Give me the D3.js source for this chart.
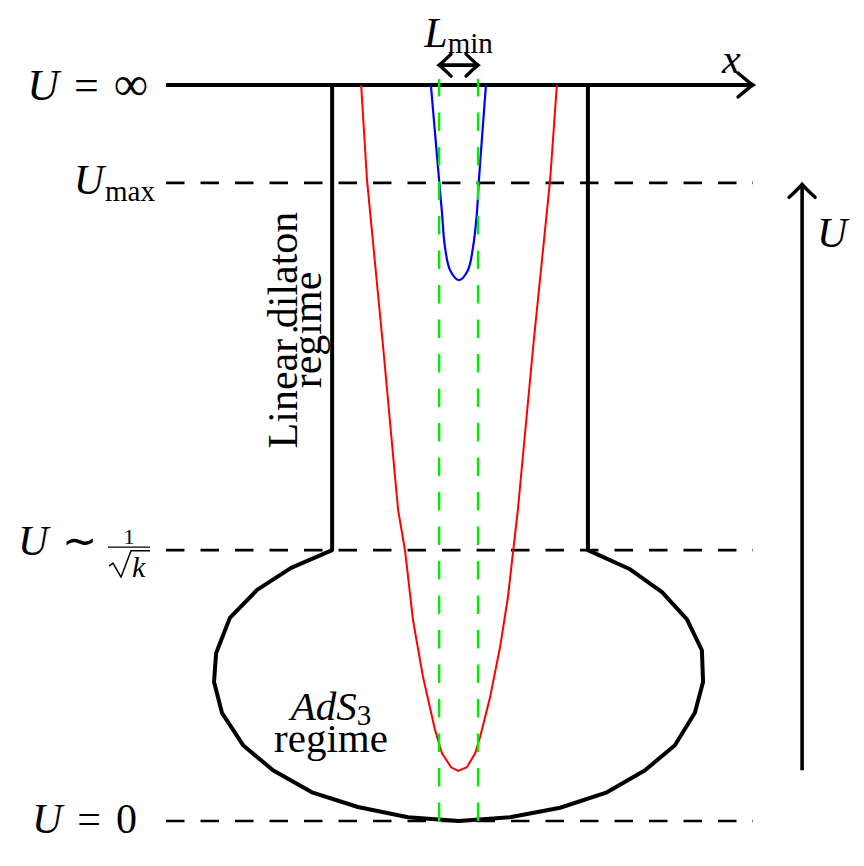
<!DOCTYPE html>
<html>
<head>
<meta charset="utf-8">
<script src="https://cdn.jsdelivr.net/npm/d3@7"></script>
<style>
body { margin: 0; background: #fff; }
svg { display: block; }
text { font-family: "Liberation Serif", "Times New Roman", serif; fill: #000; }
.it { font-style: italic; }
</style>
</head>
<body>
<svg id="chart"></svg>
<script>
// U levels in diagram units: U = inf, U_max, U ~ 1/sqrt(k), U = 0
const uInf = 10
const uMax = 8.67
const uK = 3.68
const uZero = 0
const dashedLevels = [uMax, uK, uZero]

// throat walls (linear dilaton regime)
const neckX = [-0.433, 0.44]

// AdS3 bulb, from the left wall round the bottom to the right wall
const bulb = [
    [-0.433, 3.68], [-0.573, 3.44], [-0.689, 3.14], [-0.782, 2.76], [-0.829, 2.28],
    [-0.836, 1.89], [-0.809, 1.47], [-0.737, 1.03], [-0.635, 0.69], [-0.502, 0.39],
    [-0.345, 0.19], [-0.174, 0.05], [0, 0], [0.174, 0.05], [0.345, 0.18],
    [0.505, 0.39], [0.635, 0.69], [0.737, 1.03], [0.805, 1.47], [0.833, 1.89],
    [0.829, 2.32], [0.778, 2.74], [0.693, 3.11], [0.584, 3.42], [0.44, 3.68]
]

// string reaching deep (red) and the short one (blue)
const redCurve = [
    [-0.334, 10], [-0.314, 8.71], [-0.259, 6.44], [-0.208, 4.23], [-0.184, 3.67],
    [-0.157, 2.73], [-0.123, 1.96], [-0.082, 1.24], [-0.058, 0.92], [-0.027, 0.73],
    [-0.003, 0.68], [0.027, 0.73], [0.055, 0.92], [0.072, 1.14], [0.106, 1.68],
    [0.14, 2.36], [0.167, 3.04], [0.184, 3.64], [0.201, 4.23], [0.253, 6.44],
    [0.311, 8.71], [0.334, 10]
]
const blueCurve = [
    [-0.096, 10], [-0.068, 8.71], [-0.058, 8.26], [-0.048, 7.8], [-0.03, 7.48],
    [0, 7.35], [0.03, 7.48], [0.048, 7.8], [0.061, 8.26], [0.068, 8.71], [0.092, 10]
]

// L_min markers
const lminX = [-0.068, 0.065]
const lminU = 10.27
const greenTop = 10.08

// U direction arrow
const uArrowX = 1.171
const uArrowSpan = [0.69, 8.65]

const width = 864
const height = 866

const x = d3.scaleLinear().domain([-1, 1]).range([166, 752])
const y = d3.scaleLinear().domain([0, 10]).range([821, 85])

const svg = d3.select("#chart")
    .attr("width", width)
    .attr("height", height)

const line = d3.line().x(d => x(d[0])).y(d => y(d[1]))
const smooth = d3.line().x(d => x(d[0])).y(d => y(d[1])).curve(d3.curveCatmullRom)

// tikz "to" style arrow head
function head(tx, ty, dx, dy, len, half) {
    const nx = -dy, ny = dx
    const b1 = [tx - len*dx + half*nx, ty - len*dy + half*ny]
    const b2 = [tx - len*dx - half*nx, ty - len*dy - half*ny]
    const c1 = [tx - 0.25*len*dx + 0.2*half*nx, ty - 0.25*len*dy + 0.2*half*ny]
    const c2 = [tx - 0.25*len*dx - 0.2*half*nx, ty - 0.25*len*dy - 0.2*half*ny]
    return `M${b1}Q${c1} ${tx},${ty}Q${c2} ${b2}`
}

// dashed U levels
svg.append("g")
    .selectAll("line")
    .data(dashedLevels)
    .join("line")
    .attr("x1", x(-1))
    .attr("x2", x(1) + 1)
    .attr("y1", d => y(d))
    .attr("y2", d => y(d))
    .attr("stroke", "#000")
    .attr("stroke-width", 2.6)
    .attr("stroke-dasharray", "18.5 16")

// walls + bulb
const outline = [[neckX[0], uInf], ...bulb, [neckX[1], uInf]]
svg.append("path")
    .attr("d", line(outline))
    .attr("fill", "none")
    .attr("stroke", "#000")
    .attr("stroke-width", 4)
    .attr("stroke-linejoin", "round")

// x axis at U = inf
svg.append("line")
    .attr("x1", x(-1)).attr("x2", x(1) + 1)
    .attr("y1", y(uInf)).attr("y2", y(uInf))
    .attr("stroke", "#000")
    .attr("stroke-width", 4.2)
svg.append("path")
    .attr("d", head(x(1) + 1, y(uInf), 1, 0, 15, 12))
    .attr("fill", "none")
    .attr("stroke", "#000")
    .attr("stroke-width", 3.4)
    .attr("stroke-linecap", "round")

// strings
svg.append("path")
    .attr("d", line(redCurve))
    .attr("fill", "none")
    .attr("stroke", "#ff0000")
    .attr("stroke-width", 2)

svg.append("path")
    .attr("d", smooth(blueCurve))
    .attr("fill", "none")
    .attr("stroke", "#0000ff")
    .attr("stroke-width", 2.2)

// green L_min guides, dashes start at U = 0
svg.append("g")
    .selectAll("line")
    .data(lminX)
    .join("line")
    .attr("x1", d => x(d))
    .attr("x2", d => x(d))
    .attr("y1", y(uZero))
    .attr("y2", y(greenTop))
    .attr("stroke", "#00ee00")
    .attr("stroke-width", 2.4)
    .attr("stroke-dasharray", "18.5 16")

// L_min double arrow
const ly = y(lminU)
svg.append("line")
    .attr("x1", x(lminX[0]) + 2).attr("x2", x(lminX[1]) - 2)
    .attr("y1", ly).attr("y2", ly)
    .attr("stroke", "#000").attr("stroke-width", 3.6)
svg.append("path")
    .attr("d", head(x(lminX[0]), ly, -1, 0, 12, 11) + head(x(lminX[1]), ly, 1, 0, 12, 11))
    .attr("fill", "none").attr("stroke", "#000").attr("stroke-width", 3.4)
    .attr("stroke-linecap", "round")

// U arrow on the right
svg.append("line")
    .attr("x1", x(uArrowX)).attr("x2", x(uArrowX))
    .attr("y1", y(uArrowSpan[0])).attr("y2", y(uArrowSpan[1]))
    .attr("stroke", "#000").attr("stroke-width", 3.6)
svg.append("path")
    .attr("d", head(x(uArrowX), y(uArrowSpan[1]), 0, -1, 13, 13))
    .attr("fill", "none").attr("stroke", "#000").attr("stroke-width", 3.4)
    .attr("stroke-linecap", "round")

// ---- labels ----
const lx = x(-1) - 16
const fs = 42, sub = 29

function addText(g, cls, txt, size) {
    return g.append("tspan").attr("class", cls).attr("font-size", size).text(txt)
}

// U = inf
let t = svg.append("text").attr("x", lx - 2).attr("y", y(uInf) + 15).attr("text-anchor", "end")
addText(t, "it", "U", fs + 2)
addText(t, "", "=", fs + 2).attr("dx", 15)
addText(t, "", "∞", fs + 6).attr("dx", 15)

// U_max
t = svg.append("text").attr("x", lx + 5).attr("y", y(uMax) + 11).attr("text-anchor", "end")
addText(t, "it", "U", fs)
addText(t, "", "max", sub).attr("dy", 7).attr("dx", 1)

// U ~ 1/sqrt(k)
const gk = svg.append("g").attr("transform", `translate(${lx},${y(uK)})`)
gk.append("text").attr("class", "it").attr("font-size", fs).attr("x", -132).attr("y", 5).text("U")
gk.append("text").attr("font-size", fs).attr("x", -88).attr("y", 5).text("∼")
gk.append("text").attr("font-size", 22).attr("x", -21).attr("y", -6).attr("text-anchor", "middle").text("1")
gk.append("line").attr("x1", -42).attr("x2", 0).attr("y1", -3).attr("y2", -3)
    .attr("stroke", "#000").attr("stroke-width", 1.4)
gk.append("path").attr("d", "M-41,16L-37,13L-29,27L-19,0.5L0,0.5")
    .attr("fill", "none").attr("stroke", "#000").attr("stroke-width", 1.5)
    .attr("stroke-linejoin", "round")
gk.append("text").attr("class", "it").attr("font-size", 30).attr("x", -18).attr("y", 27).text("k")

// U = 0
t = svg.append("text").attr("x", lx - 13).attr("y", y(uZero) + 12).attr("text-anchor", "end")
addText(t, "it", "U", fs)
addText(t, "", "=", fs).attr("dx", 15)
addText(t, "", "0", fs).attr("dx", 15)

// L_min
t = svg.append("text").attr("x", (x(lminX[0]) + x(lminX[1])) / 2).attr("y", 47).attr("text-anchor", "middle")
addText(t, "it", "L", fs)
addText(t, "", "min", sub).attr("dy", 6)

// axis names
svg.append("text").attr("class", "it").attr("font-size", fs)
    .attr("x", x(1) - 30).attr("y", y(uInf) - 12).text("x")
svg.append("text").attr("class", "it").attr("font-size", fs)
    .attr("x", x(uArrowX) + 15).attr("y", y(uMax) + 64).text("U")

// regime labels, two lines each
t = svg.append("text")
    .attr("font-size", 42)
    .attr("text-anchor", "middle")
    .attr("transform", "translate(297,330) rotate(-90)")
t.append("tspan").attr("x", 0).attr("y", 0).text("Linear dilaton")
t.append("tspan").attr("x", 0).attr("y", 24).text("regime")

t = svg.append("text").attr("font-size", 41).attr("text-anchor", "middle")
const l1 = t.append("tspan").attr("x", 331).attr("y", 720)
l1.append("tspan").attr("class", "it").text("AdS")
l1.append("tspan").attr("font-size", sub).attr("dy", 5).text("3")
t.append("tspan").attr("x", 331).attr("y", 752).text("regime")
</script>
</body>
</html>
